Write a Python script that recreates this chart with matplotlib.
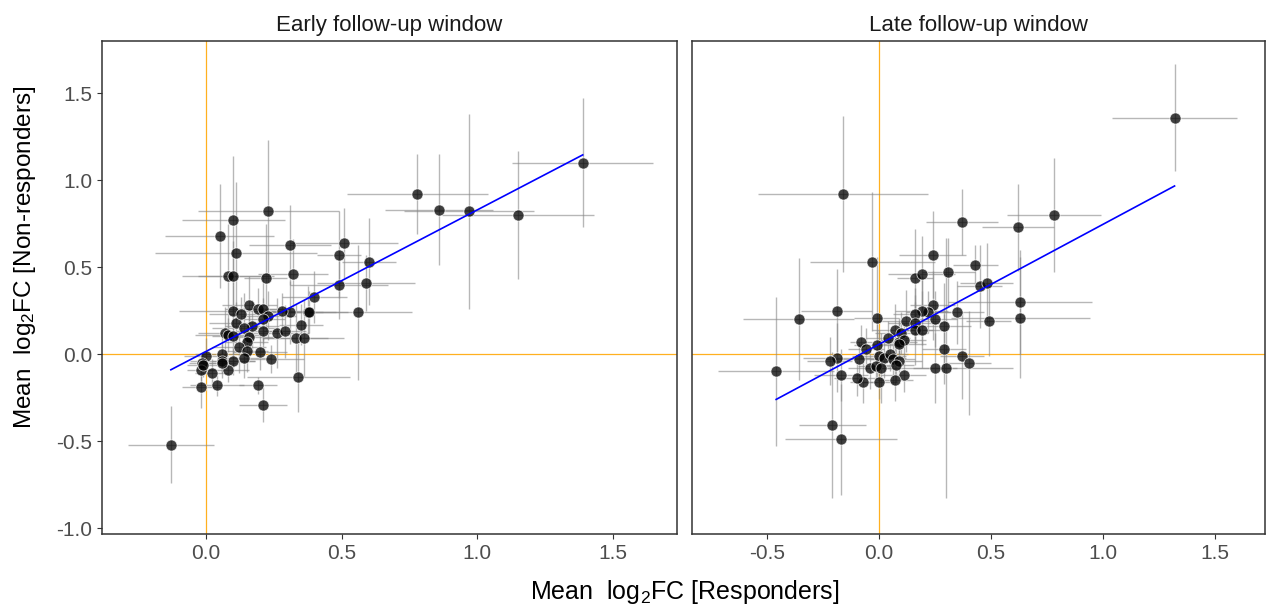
import numpy as np
import matplotlib
matplotlib.use("Agg")
import matplotlib.pyplot as plt

plt.rcParams['font.family'] = ['Liberation Sans', 'DejaVu Sans']
plt.rcParams['mathtext.fontset'] = 'custom'
plt.rcParams['mathtext.rm'] = 'Liberation Sans'
plt.rcParams['mathtext.default'] = 'regular'
plt.rcParams['axes.unicode_minus'] = False

# early follow-up window: responders (x), non-responders (y), with error
early_x = [-0.13, 1.39, 0.78, 0.86, 0.97, 1.15, 0.23, 0.10, 0.05, 0.11, 0.31, 0.51, 0.49,
           0.60, 0.08, 0.10, 0.22, 0.32, 0.49, 0.59, 0.40, 0.56, 0.375, 0.38, 0.31, 0.28,
           0.16, 0.19, 0.21, 0.10, 0.11, 0.13, 0.23, 0.21, 0.17, 0.14, 0.21, 0.26, 0.29,
           0.35, 0.33, 0.36, 0.07, 0.08, 0.10, 0.16, 0.15, 0.12, 0.15, 0.20, 0.24, 0.14,
           0.10, 0.06, 0.06, 0.08, 0.02, 0.00, -0.014, -0.02, -0.01, -0.02, 0.04, 0.19,
           0.21, 0.34, 0.06]
early_y = [-0.52, 1.10, 0.92, 0.83, 0.82, 0.80, 0.82, 0.77, 0.68, 0.58, 0.63, 0.64, 0.57,
           0.53, 0.45, 0.45, 0.44, 0.46, 0.40, 0.41, 0.33, 0.24, 0.24, 0.24, 0.24, 0.25,
           0.28, 0.26, 0.26, 0.25, 0.18, 0.23, 0.22, 0.20, 0.16, 0.15, 0.13, 0.12, 0.13,
           0.17, 0.09, 0.09, 0.12, 0.11, 0.105, 0.10, 0.07, 0.04, 0.015, 0.01, -0.03, -0.02,
           -0.04, 0.00, -0.04, -0.09, -0.11, -0.01, -0.05, -0.09, -0.06, -0.19, -0.18, -0.18,
           -0.29, -0.13, -0.05]
early_xerr = [0.16, 0.26, 0.26, 0.20, 0.24, 0.28, 0.26, 0.19, 0.20, 0.30, 0.15, 0.20, 0.08,
              0.10, 0.17, 0.13, 0.08, 0.13, 0.18, 0.18, 0.12, 0.20, 0.15, 0.10, 0.12, 0.10,
              0.10, 0.12, 0.10, 0.20, 0.10, 0.12, 0.10, 0.08, 0.10, 0.12, 0.10, 0.12, 0.08,
              0.08, 0.12, 0.15, 0.10, 0.12, 0.08, 0.10, 0.08, 0.10, 0.08, 0.10, 0.12, 0.10,
              0.08, 0.10, 0.12, 0.08, 0.06, 0.08, 0.05, 0.05, 0.06, 0.07, 0.10, 0.07,
              0.09, 0.19, 0.05]
early_yerr = [0.22, 0.37, 0.23, 0.32, 0.56, 0.37, 0.41, 0.37, 0.30, 0.41, 0.23, 0.20, 0.25,
              0.25, 0.30, 0.20, 0.31, 0.20, 0.20, 0.16, 0.15, 0.39, 0.15, 0.12, 0.18, 0.10,
              0.17, 0.12, 0.20, 0.15, 0.12, 0.10, 0.14, 0.12, 0.15, 0.20, 0.12, 0.20, 0.15,
              0.12, 0.20, 0.22, 0.15, 0.10, 0.18, 0.12, 0.10, 0.15, 0.12, 0.10, 0.08, 0.12,
              0.08, 0.10, 0.10, 0.07, 0.08, 0.10, 0.06, 0.08, 0.07, 0.12, 0.06, 0.05,
              0.10, 0.20, 0.06]

# late follow-up window
late_x = [1.32, -0.16, 0.78, 0.62, 0.37, -0.03, 0.24, 0.16, 0.19, 0.31, 0.43, 0.45, 0.48,
          0.63, 0.63, 0.49, 0.35, 0.24, 0.22, 0.19, 0.16, 0.12, 0.16, 0.25, 0.29, 0.16,
          0.19, 0.07, 0.10, 0.04, 0.09, 0.11, 0.09, -0.01, -0.08, -0.06, -0.01, 0.29, 0.37,
          0.40, 0.25, 0.30, 0.00, 0.02, 0.05, 0.06, 0.09, 0.075, -0.09, -0.04, -0.015, 0.01,
          0.11, 0.07, 0.00, -0.07, -0.10, -0.17, -0.19, -0.22, -0.19, -0.36, -0.46, -0.21,
          -0.17]
late_y = [1.36, 0.92, 0.80, 0.73, 0.76, 0.53, 0.57, 0.44, 0.46, 0.47, 0.51, 0.39, 0.41,
          0.30, 0.21, 0.19, 0.24, 0.28, 0.24, 0.25, 0.23, 0.19, 0.18, 0.20, 0.16, 0.14,
          0.14, 0.14, 0.12, 0.09, 0.07, 0.08, 0.06, 0.21, 0.07, 0.03, 0.05, 0.03, -0.01,
          -0.05, -0.08, -0.08, -0.01, -0.02, 0.00, -0.03, -0.04, -0.06, -0.03, -0.08, -0.07,
          -0.08, -0.12, -0.15, -0.16, -0.16, -0.14, -0.12, -0.02, -0.04, 0.25, 0.20, -0.10,
          -0.41, -0.49]
late_xerr = [0.28, 0.38, 0.21, 0.16, 0.16, 0.28, 0.15, 0.08, 0.15, 0.12, 0.10, 0.10, 0.12,
             0.32, 0.31, 0.10, 0.12, 0.10, 0.10, 0.12, 0.10, 0.15, 0.12, 0.10, 0.12, 0.08,
             0.10, 0.10, 0.12, 0.10, 0.08, 0.10, 0.12, 0.10, 0.05, 0.08, 0.10, 0.10, 0.10,
             0.10, 0.10, 0.30, 0.12, 0.10, 0.08, 0.10, 0.10, 0.08, 0.15, 0.10, 0.08, 0.08,
             0.10, 0.08, 0.08, 0.06, 0.10, 0.12, 0.15, 0.10, 0.16, 0.25, 0.26, 0.15, 0.25]
late_yerr = [0.31, 0.45, 0.33, 0.25, 0.19, 0.40, 0.25, 0.28, 0.22, 0.20, 0.12, 0.24, 0.23,
             0.30, 0.35, 0.20, 0.18, 0.20, 0.12, 0.20, 0.15, 0.18, 0.12, 0.16, 0.25, 0.20,
             0.22, 0.15, 0.12, 0.10, 0.12, 0.10, 0.15, 0.35, 0.10, 0.12, 0.14, 0.20, 0.25,
             0.30, 0.20, 0.75, 0.15, 0.12, 0.10, 0.14, 0.08, 0.10, 0.10, 0.12, 0.08, 0.20,
             0.10, 0.12, 0.10, 0.12, 0.10, 0.15, 0.20, 0.14, 0.24, 0.35, 0.43, 0.42, 0.32]

panels = [("Early follow-up window", early_x, early_y, early_xerr, early_yerr, (-0.384, 1.738)),
          ("Late follow-up window", late_x, late_y, late_xerr, late_yerr, (-0.836, 1.724))]

fig = plt.figure(figsize=(12.66, 6.09), dpi=100)
ax1 = fig.add_axes([0.0806, 0.1232, 0.4542, 0.8095])
ax2 = fig.add_axes([0.5466, 0.1232, 0.4526, 0.8095], sharey=ax1)

for ax, (title, x, y, xe, ye, xlim) in zip([ax1, ax2], panels):
    x = np.array(x); y = np.array(y)
    ax.axhline(0, color='#FFB020', lw=0.9, zorder=1)
    ax.axvline(0, color='#FFB020', lw=0.9, zorder=1)
    ax.errorbar(x, y, xerr=xe, yerr=ye, fmt='none', ecolor='#888888',
                elinewidth=1.0, alpha=0.6, zorder=2)
    ax.scatter(x, y, s=64, color='black', alpha=0.75, edgecolors='white',
               linewidths=0.6, zorder=3)
    k, b = np.polyfit(x, y, 1)
    xs = np.array([x.min(), x.max()])
    ax.plot(xs, k * xs + b, color='blue', lw=1.2, zorder=4)
    ax.set_xlim(*xlim)
    ax.set_title(title, fontsize=16, color='#1a1a1a', pad=7)
    ax.set_xticks([-0.5, 0.0, 0.5, 1.0, 1.5] if xlim[0] < -0.5 else [0.0, 0.5, 1.0, 1.5])
    ax.tick_params(colors='#333333', labelcolor='#4D4D4D', labelsize=15, length=3.5)
    for s in ax.spines.values():
        s.set_color('#333333')
        s.set_linewidth(1.1)

ax1.set_ylim(-1.034, 1.80)
ax1.set_yticks([-1.0, -0.5, 0.0, 0.5, 1.0, 1.5])
ax2.tick_params(axis='y', left=False, labelleft=False)

fig.text(0.541, 0.028, r'Mean  log$_2$FC [Responders]', ha='center', va='center', fontsize=18)
fig.text(0.02, 0.578, r'Mean  log$_2$FC [Non-responders]', ha='center', va='center',
         rotation=90, fontsize=17.5)

fig.savefig('out.png', dpi=100)
